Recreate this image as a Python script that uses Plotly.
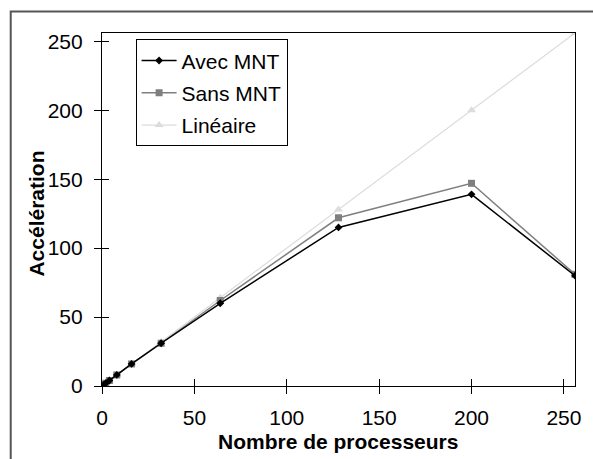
import plotly.graph_objects as go

procs = [1, 2, 4, 8, 16, 32, 64, 128, 200, 256]
avec_mnt = [1, 2, 4, 8, 16, 31, 60, 115, 139, 80]
sans_mnt = [1, 2, 4, 8, 16, 31, 62, 122, 147, 81]
lineaire = [1, 2, 4, 8, 16, 32, 64, 128, 200, 256]

FONT = "Liberation Sans, Arial, sans-serif"
FS = 21

fig = go.Figure()
fig.add_trace(go.Scatter(x=procs, y=lineaire, name="Linéaire", mode="lines+markers", legendgroup="c",
                         legendrank=3,
                         line=dict(color="#dcdcdc", width=1.2),
                         marker=dict(symbol="triangle-up", size=8, color="#dcdcdc")))
fig.add_trace(go.Scatter(x=procs, y=sans_mnt, name="Sans MNT", mode="lines+markers", legendgroup="b",
                         legendrank=2,
                         line=dict(color="#7f7f7f", width=1.5),
                         marker=dict(symbol="square", size=7, color="#7f7f7f")))
fig.add_trace(go.Scatter(x=procs, y=avec_mnt, name="Avec MNT", mode="lines+markers", legendgroup="a",
                         legendrank=1,
                         line=dict(color="#000000", width=1.5),
                         marker=dict(symbol="diamond", size=6, color="#000000")))

axis_common = dict(range=[0, 256], showgrid=False, zeroline=False, showline=True,
                   linecolor="black", linewidth=1.2, mirror=True, ticks="outside",
                   ticklen=7, tickcolor="black", tickwidth=1,
                   tickfont=dict(family=FONT, size=FS, color="black"), dtick=50)

fig.update_layout(
    width=593, height=459,
    margin=dict(l=102, r=14, t=33, b=73),
    paper_bgcolor="white", plot_bgcolor="white",
    font=dict(family=FONT, size=FS, color="black"),
    xaxis=dict(**axis_common, ticklabelstandoff=6),
    yaxis=dict(**axis_common, ticklabelstandoff=7),
    xaxis2=dict(range=[0, 256], overlaying="x", showgrid=False, zeroline=False, showticklabels=False,
                ticks="inside", ticklen=7, tickcolor="black", dtick=50, showline=False),
    yaxis2=dict(range=[0, 256], overlaying="y", showgrid=False, zeroline=False, showticklabels=False,
                ticks="inside", ticklen=7, tickcolor="black", dtick=50, showline=False),
    legend=dict(x=0.071, y=0.982, xanchor="left", yanchor="top",
                bgcolor="white", bordercolor="black", borderwidth=1,
                font=dict(family=FONT, size=FS, color="black"),
                traceorder="grouped", itemwidth=35, tracegroupgap=2),
    showlegend=True,
    annotations=[
        dict(text="<b>Nombre de processeurs</b>", xref="paper", yref="paper",
             x=(340 - 102) / 477, y=-(441 - 386) / 353, xanchor="center", yanchor="middle",
             showarrow=False, font=dict(family=FONT, size=FS, color="black")),
        dict(text="<b>Accélération</b>", xref="paper", yref="paper", textangle=-90,
             x=-(102 - 35) / 477, y=(386 - 214) / 353, xanchor="center", yanchor="middle",
             showarrow=False, font=dict(family=FONT, size=FS, color="black")),
    ],
    shapes=[dict(type="rect", xref="paper", yref="paper",
                 x0=-0.193, x1=1.2, y0=-0.4, y1=1.061,
                 line=dict(color="#555", width=2), fillcolor="rgba(0,0,0,0)", layer="below")],
)
fig.add_trace(go.Scatter(x=[None], y=[None], xaxis="x2", yaxis="y2", showlegend=False, hoverinfo="skip"))

fig.write_html("out.html")
